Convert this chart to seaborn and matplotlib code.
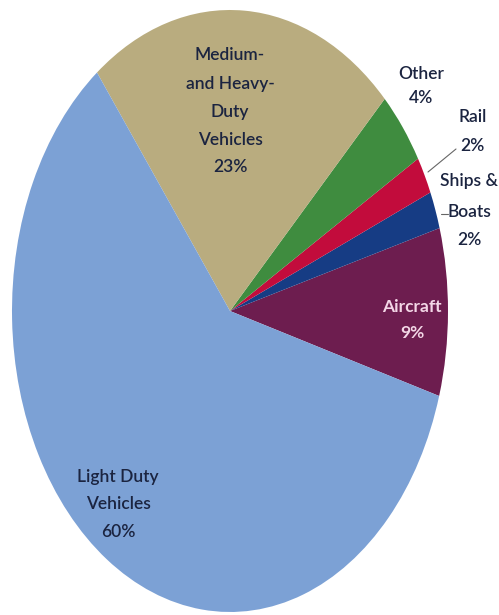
import matplotlib
matplotlib.use("Agg")
import matplotlib.pyplot as plt
import seaborn as sns

# Share of transportation energy use / emissions by mode
modes = ["Aircraft", "Ships & Boats", "Rail", "Other",
         "Medium- and Heavy-Duty Vehicles", "Light Duty Vehicles"]
shares = [9, 2, 2, 4, 23, 60]
colors = ["#6d1d4f", "#163c84", "#c20c3c", "#3f8c3f", "#b9ac7f", "#7ca1d5"]

sns.set_theme(style="white")
plt.rcParams["font.family"] = ["Lato", "DejaVu Sans"]

W, H = 499, 615
fig = plt.figure(figsize=(W / 100, H / 100), dpi=100)
# ellipse spans x 12..448, y 10..612 (pixels, from top)
ax = fig.add_axes([12 / W, 1 - 612 / H, 436 / W, 602 / H])

ax.pie(shares, colors=colors, startangle=-16.4, counterclock=True,
       radius=1, wedgeprops=dict(linewidth=0))
ax.set_aspect("auto")
ax.set_xlim(-1, 1)
ax.set_ylim(-1, 1)
ax.axis("off")


def px(x, y):
    return x / W, 1 - y / H


label_color = "#1b2440"
fs = 12.5
wt = "semibold"

# Medium- and Heavy-Duty
for txt, y in zip(["Medium-", "and Heavy-", "Duty", "Vehicles", f"{shares[4]}%"],
                  [55, 84, 112, 140, 167]):
    fig.text(*px(230, y), txt, ha="center", va="center", fontsize=fs,
             color=label_color, fontweight=wt)

# Light duty
for txt, y in zip(["Light Duty", "Vehicles", f"{shares[5]}%"], [477, 504, 532]):
    fig.text(*px(118, y), txt, ha="center", va="center", fontsize=fs,
             color=label_color, fontweight=wt)

# Other
for txt, y in zip(["Other", f"{shares[3]}%"], [74, 98]):
    fig.text(*px(421, y), txt, ha="center", va="center", fontsize=fs,
             color=label_color, fontweight=wt)

# Rail with leader line
for txt, x, y in zip(["Rail", f"{shares[2]}%"], [473, 472], [117, 146]):
    fig.text(*px(x, y), txt, ha="center", va="center", fontsize=fs,
             color=label_color, fontweight=wt)
fig.add_artist(plt.Line2D([428 / W, 456 / W], [1 - 172 / H, 1 - 149 / H],
                          color="#666666", linewidth=0.8))

# Ships & Boats with leader line
for txt, y in zip(["Ships &", "Boats", f"{shares[1]}%"], [181, 212, 240]):
    fig.text(*px(469, y), txt, ha="center", va="center", fontsize=fs,
             color=label_color, fontweight=wt)
fig.add_artist(plt.Line2D([441 / W, 448 / W], [1 - 214 / H, 1 - 214 / H],
                          color="#666666", linewidth=0.8))

# Aircraft
for txt, y in zip(["Aircraft", f"{shares[0]}%"], [307, 333]):
    fig.text(*px(412, y), txt, ha="center", va="center", fontsize=fs,
             color="#f3d6e6", fontweight="bold")

fig.savefig("out.png", dpi=100)
